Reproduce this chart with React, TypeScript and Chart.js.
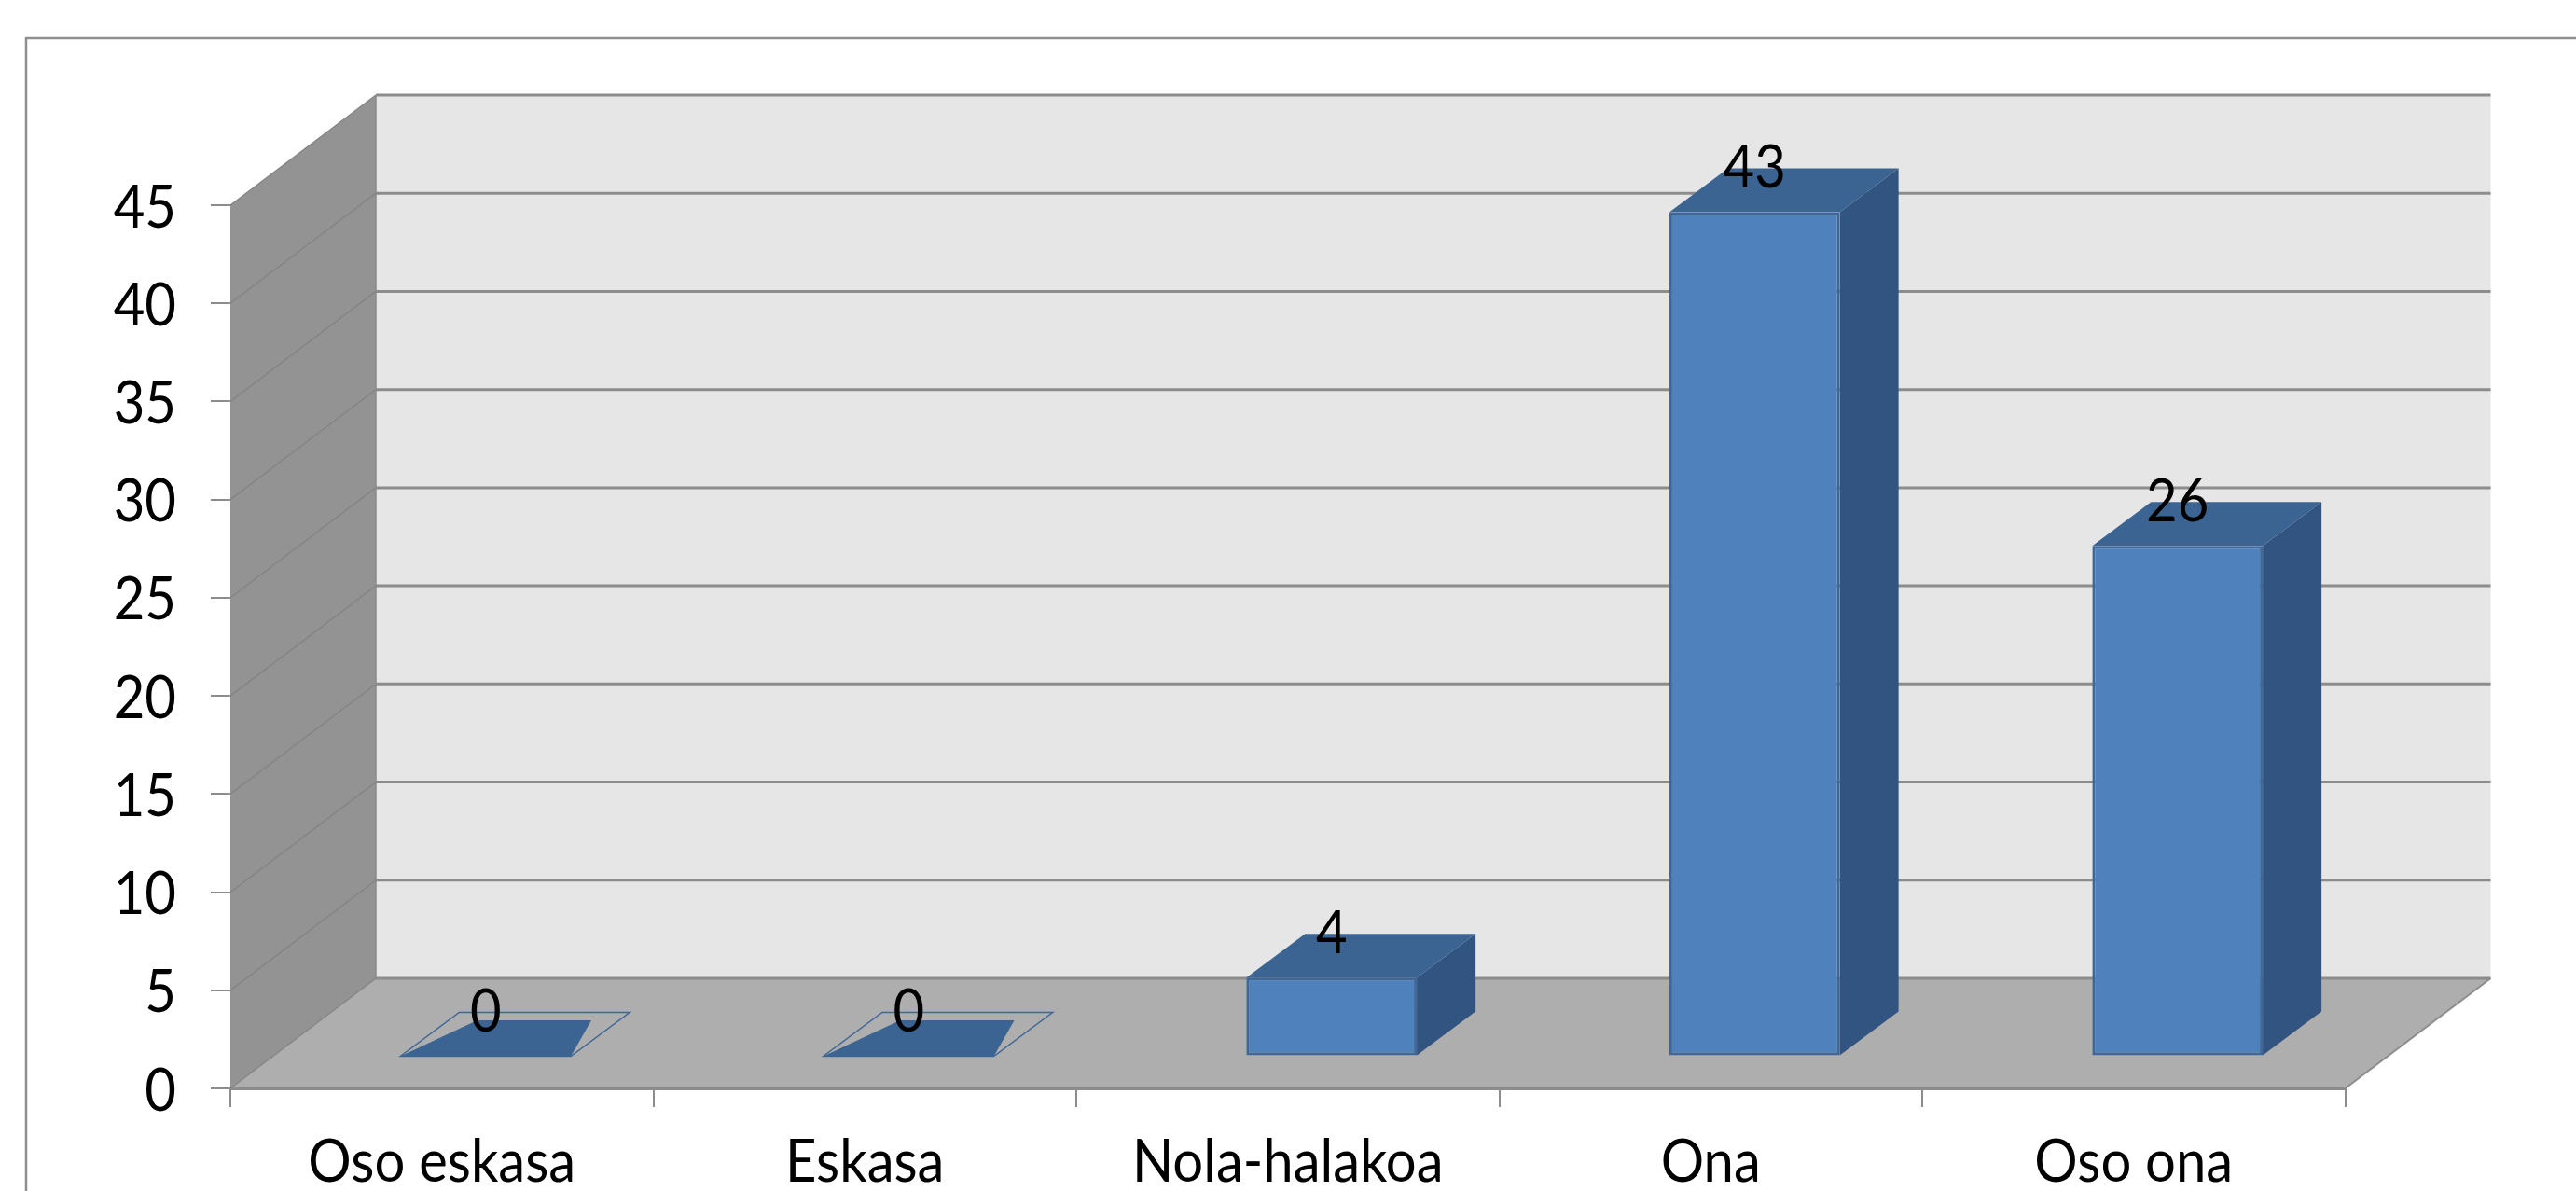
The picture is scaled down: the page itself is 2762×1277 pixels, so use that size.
import React, { useEffect, useRef } from "react";
import { Chart, registerables } from "chart.js";

Chart.register(...registerables);

const categories = ["Oso eskasa", "Eskasa", "Nola-halakoa", "Ona", "Oso ona"];
const seriesValues = [0, 0, 4, 43, 26];
const yTickStep = 5;
const yMax = 45;

const FONT = "Lato, 'Open Sans', sans-serif";
const FONT_SIZE = 58;
const TEXT_STRETCH = 1.1;

const C = {
  front: "#4f81bd",
  top: "#3c6492",
  side: "#325480",
  edge: "#3f6797",
  wall: "#e6e6e6",
  sideWall: "#939393",
  floor: "#aeaeae",
  grid: "#8c8c8c",
  sideGrid: "#858585",
  axis: "#8c8c8c",
  frame: "#8f8f8f",
};

// 3D projection of the plot box, as offsets from the front plane
const BOX = { dx: 156, dy: -118 };
const BAR_OFFSET = { dx: 47, dy: -34.5 };
const BAR_DEPTH = { dx: 63, dy: -47 };
const LABEL_LIFT = -47;

const poly = (ctx: CanvasRenderingContext2D, pts: number[][], fill?: string, stroke?: string, lw = 1) => {
  ctx.beginPath();
  pts.forEach(([x, y], i) => (i ? ctx.lineTo(x, y) : ctx.moveTo(x, y)));
  ctx.closePath();
  if (fill) {
    ctx.fillStyle = fill;
    ctx.fill();
  }
  if (stroke) {
    ctx.strokeStyle = stroke;
    ctx.lineWidth = lw;
    ctx.stroke();
  }
};

const boxPlugin = {
  id: "box3d",
  beforeInit(chart: any) {
    // the reference's lettering is a little taller than it is wide
    const ctx = chart.ctx;
    const plain = ctx.fillText.bind(ctx);
    ctx.fillText = (text: string, x: number, y: number) => {
      ctx.save();
      ctx.translate(x, y);
      ctx.scale(1, TEXT_STRETCH);
      plain(text, 0, 0);
      ctx.restore();
    };
  },
  beforeDraw(chart: any) {
    const { ctx, chartArea: a, scales } = chart;
    const { dx, dy } = BOX;
    const y = scales.y;
    ctx.save();
    ctx.fillStyle = "#ffffff";
    ctx.fillRect(0, 0, chart.width, chart.height);
    // outer frame: its right and bottom sides lie beyond the picture
    ctx.strokeStyle = C.frame;
    ctx.lineWidth = 2.5;
    ctx.strokeRect(28, 41, 3000, 1500);
    // back wall, side wall, floor
    const top = a.top;
    const bottom = a.bottom;
    poly(ctx, [[a.left + dx, top + dy], [a.right + dx, top + dy], [a.right + dx, bottom + dy], [a.left + dx, bottom + dy]], C.wall);
    poly(ctx, [[a.left, top], [a.left + dx, top + dy], [a.left + dx, bottom + dy], [a.left, bottom]], C.sideWall);
    poly(ctx, [[a.left, bottom], [a.right, bottom], [a.right + dx, bottom + dy], [a.left + dx, bottom + dy]], C.floor);
    // grid lines: along the side wall and across the back wall
    y.ticks.forEach((t: any) => {
      const py = y.getPixelForValue(t.value);
      ctx.strokeStyle = C.sideGrid;
      ctx.lineWidth = 1.5;
      ctx.beginPath();
      ctx.moveTo(a.left, py);
      ctx.lineTo(a.left + dx, py + dy);
      ctx.stroke();
      ctx.strokeStyle = C.grid;
      ctx.lineWidth = 3;
      ctx.beginPath();
      ctx.moveTo(a.left + dx, py + dy);
      ctx.lineTo(a.right + dx, py + dy);
      ctx.stroke();
    });
    // right floor edge and wall corner edge
    ctx.strokeStyle = C.axis;
    ctx.lineWidth = 2;
    ctx.beginPath();
    ctx.moveTo(a.right, bottom);
    ctx.lineTo(a.right + dx, bottom + dy);
    ctx.stroke();
    ctx.strokeStyle = "#8a8a8a";
    ctx.lineWidth = 1.5;
    ctx.beginPath();
    ctx.moveTo(a.left + dx, top + dy);
    ctx.lineTo(a.left + dx, bottom + dy);
    ctx.stroke();
    ctx.restore();
  },
  beforeDatasetsDraw(chart: any) {
    const { ctx } = chart;
    ctx.save();
    ctx.translate(BAR_OFFSET.dx, BAR_OFFSET.dy);
    const { dx, dy } = BAR_DEPTH;
    chart.getDatasetMeta(0).data.forEach((bar: any) => {
      const l = bar.x - bar.width / 2;
      const r = bar.x + bar.width / 2;
      const t = bar.y;
      const b = bar.base;
      if (b - t < 1) {
        // an empty column: outlined footprint with a darker, shorter lid
        const w = r - l;
        poly(ctx, [[l, b], [r, b], [r + dx, b + dy], [l + dx, b + dy]], undefined, C.edge, 1.5);
        poly(ctx, [[l, b], [r, b], [r + w * 0.12, b + dy * 0.82], [l + w * 0.45, b + dy * 0.82]], C.top);
      } else {
        poly(ctx, [[r, t], [r + dx, t + dy], [r + dx, b + dy], [r, b]], C.side);
        poly(ctx, [[l, t], [l + dx, t + dy], [r + dx, t + dy], [r, t]], C.top);
      }
    });
    ctx.restore();
    ctx.save();
    ctx.translate(BAR_OFFSET.dx, BAR_OFFSET.dy);
  },
  afterDatasetsDraw(chart: any) {
    const { ctx } = chart;
    ctx.restore();
    ctx.save();
    ctx.translate(BAR_OFFSET.dx, BAR_OFFSET.dy);
    ctx.fillStyle = "#000000";
    ctx.font = `${FONT_SIZE}px ${FONT}`;
    ctx.textAlign = "center";
    ctx.textBaseline = "middle";
    chart.getDatasetMeta(0).data.forEach((bar: any, i: number) => {
      ctx.fillText(String(seriesValues[i]), bar.x, bar.y + LABEL_LIFT);
    });
    ctx.restore();
  },
};

export default function App() {
  const ref = useRef<HTMLCanvasElement>(null);
  useEffect(() => {
    document.body.style.margin = "0";
    const chart = new Chart(ref.current as HTMLCanvasElement, {
      type: "bar",
      data: {
        labels: categories,
        datasets: [
          {
            data: seriesValues,
            backgroundColor: C.front,
            borderColor: C.edge,
            borderWidth: 3,
            borderSkipped: false,
            categoryPercentage: 1,
            barPercentage: 0.403,
            clip: false,
          } as any,
        ],
      },
      options: {
        animation: false,
        responsive: false,
        layout: { padding: { top: 220, right: 247.5, bottom: 0, left: 0 } },
        plugins: { legend: { display: false }, tooltip: { enabled: false }, title: { display: false } },
        scales: {
          x: {
            grid: { drawOnChartArea: false, drawTicks: true, tickLength: 20, color: C.axis, lineWidth: 2 },
            border: { display: true, color: C.axis, width: 3 },
            ticks: {
              color: "#000000",
              font: { family: FONT, size: FONT_SIZE },
              padding: 25,
              maxRotation: 0,
              autoSkip: false,
            },
            afterFit(scale: any) {
              scale.height = 110;
            },
          },
          y: {
            min: 0,
            max: yMax,
            grid: { drawOnChartArea: false, drawTicks: true, tickLength: 21, color: C.axis, lineWidth: 2 },
            border: { display: false },
            ticks: {
              stepSize: yTickStep,
              color: "#000000",
              font: { family: FONT, size: FONT_SIZE },
              padding: 37,
              labelOffset: 3,
            },
            afterFit(scale: any) {
              scale.width = 247;
            },
          },
        },
      },
      plugins: [boxPlugin],
    } as any);
    return () => chart.destroy();
  }, []);
  return <canvas ref={ref} width={2762} height={1277} style={{ display: "block", width: 2762, height: 1277 }} />;
}
